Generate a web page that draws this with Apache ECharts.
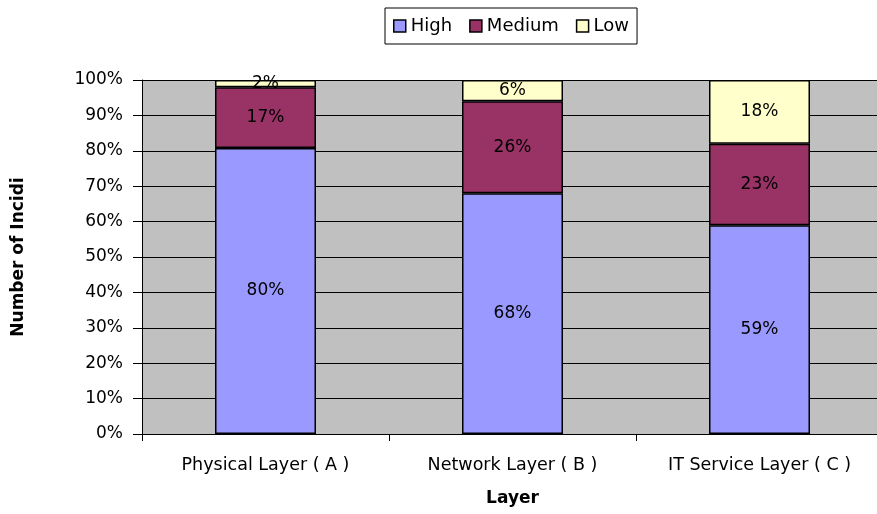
<!DOCTYPE html>
<html>
<head>
<meta charset="utf-8">
<script src="https://cdn.jsdelivr.net/npm/echarts@6/dist/echarts.min.js"></script>
<style>
  html, body { margin: 0; padding: 0; background: #fff; }
  #main { width: 877px; height: 514px; }
</style>
</head>
<body>
<div id="main"></div>
<script>
// layers and the share of incidents per severity (percent, as labelled)
const layers = ["Physical Layer ( A )", "Network Layer ( B )", "IT Service Layer ( C )"];
const high = [80, 68, 59];
const medium = [17, 26, 23];
const low = [2, 6, 18];
const yTicks = [0, 10, 20, 30, 40, 50, 60, 70, 80, 90, 100];

// 100% stacked: each column is scaled to its own total
const totals = layers.map((_, i) => high[i] + medium[i] + low[i]);
const share = (arr) => arr.map((v, i) => (v / totals[i]) * 100);

const font = "DejaVu Sans";

var chartDom = document.getElementById("main");
var myChart = echarts.init(chartDom, null, { renderer: "canvas" });

function makeSeries(name, arr, color) {
  return {
    name: name,
    type: "bar",
    stack: "all",
    barWidth: 101,
    data: share(arr),
    itemStyle: {
      color: color,
      borderColor: "#000",
      borderWidth: 1.5,
    },
    label: {
      show: true,
      position: "inside",
      color: "#000",
      fontFamily: font,
      fontSize: 17,
      formatter: (p) => arr[p.dataIndex] + "%",
    },
    emphasis: { disabled: true },
  };
}

var option = {
  backgroundColor: "#fff",
  animation: false,
  textStyle: { fontFamily: font },
  legend: {
    left: 385,
    top: 8,
    padding: [9, 8, 9, 8],
    borderColor: "#000",
    borderWidth: 1,
    itemWidth: 12,
    itemHeight: 12,
    itemGap: 17,
    icon: "rect",
    itemStyle: { borderColor: "#000", borderWidth: 1.5 },
    textStyle: { color: "#000", fontFamily: font, fontSize: 18 },
    data: ["High", "Medium", "Low"],
  },
  grid: {
    left: 142,
    width: 741,
    top: 80,
    bottom: 80,
    outerBoundsMode: "none",
    containLabel: false,
    show: true,
    backgroundColor: "#C0C0C0",
    borderWidth: 0,
  },
  xAxis: {
    type: "category",
    data: layers,
    name: "Layer",
    nameLocation: "middle",
    nameGap: 56,
    nameTextStyle: { color: "#000", fontFamily: font, fontSize: 17, fontWeight: "bold" },
    axisLine: { lineStyle: { color: "#000", width: 1 } },
    axisTick: { show: true, length: 7, lineStyle: { color: "#000" } },
    axisLabel: { color: "#000", fontFamily: font, fontSize: 17.5, margin: 22 },
  },
  yAxis: {
    type: "value",
    min: 0,
    max: 100,
    interval: 10,
    name: "Number of Incidi",
    nameLocation: "middle",
    nameRotate: 90,
    nameGap: 115,
    nameTextStyle: { color: "#000", fontFamily: font, fontSize: 17, fontWeight: "bold" },
    axisLine: { show: true, lineStyle: { color: "#000", width: 1 } },
    axisTick: { show: true, length: 9, lineStyle: { color: "#000" } },
    axisLabel: {
      color: "#000",
      fontFamily: font,
      fontSize: 17,
      margin: 19,
      formatter: (v) => (yTicks.indexOf(v) >= 0 ? v + "%" : ""),
    },
    splitLine: { show: true, lineStyle: { color: "#000", width: 1 } },
  },
  series: [
    makeSeries("High", high, "#9999FF"),
    makeSeries("Medium", medium, "#993366"),
    makeSeries("Low", low, "#FFFFCC"),
  ],
};

option && myChart.setOption(option);
</script>
</body>
</html>
